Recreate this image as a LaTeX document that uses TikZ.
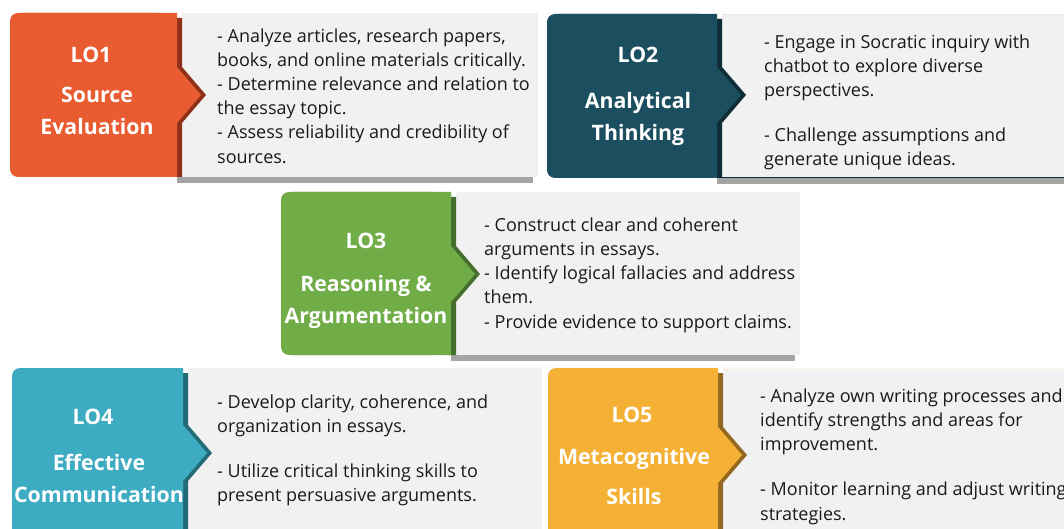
\documentclass[tikz,border=0pt]{standalone}
\usepackage{fontspec}
\setmainfont{Open Sans}
\definecolor{panelgray}{HTML}{F1F1F1}
\definecolor{shadowgray}{HTML}{A5A5A5}
\definecolor{bodyink}{HTML}{1A1A1A}
\definecolor{loA}{HTML}{E95B30}\definecolor{loAdark}{HTML}{8E3118}
\definecolor{loB}{HTML}{1B4F5F}\definecolor{loBdark}{HTML}{0F2D36}
\definecolor{loC}{HTML}{70AD47}\definecolor{loCdark}{HTML}{466E2C}
\definecolor{loD}{HTML}{3DABC2}\definecolor{loDdark}{HTML}{246B78}
\definecolor{loE}{HTML}{F4B136}\definecolor{loEdark}{HTML}{946820}
\tikzset{
  titletext/.style={text=white,font=\fontsize{21.3}{26}\selectfont\bfseries,inner sep=0pt,anchor=base},
  bodytext/.style={text=bodyink,font=\fontsize{18}{24.2}\selectfont,inner sep=0pt,anchor=north west,align=left},
}
% #1 left, #2 top, #3 bottom, #4 panel left, #5 panel right, #6 arrow centre y, #7 fill, #8 dark edge
\newcommand\locard[8]{%
  \fill[shadowgray] (#4-5,#3) rectangle (#5-5,#3+6);
  \fill[panelgray] (#4,#2) rectangle (#5,#3);
  \fill[#7!12] (#4,#2) rectangle (#5,#2+1.2);
  \fill[#8] (#4-10,#2+5) -- (#4,#2+5) -- (#4,#6-28) -- (#4+24,#6) -- (#4,#6+28)
    -- (#4,#3) -- (#4-10,#3) -- cycle;
  \fill[#7, rounded corners=8pt] (#1,#2) rectangle (#4-15,#3);
  \fill[#7] (#1+12,#2) -- (#4-5,#2) -- (#4-5,#6-28) -- (#4+19,#6) -- (#4-5,#6+28)
    -- (#4-5,#3) -- (#1+12,#3) -- cycle;
}
\newcommand\bodystrut{\rule{0pt}{15pt}}
\begin{document}
\begin{tikzpicture}[x=1pt,y=-1pt]
\useasboundingbox (0,0) rectangle (1064,529);
\fill[white] (0,0) rectangle (1064,529);

% LO1 Source Evaluation
\locard{10}{13}{177}{182}{538}{95}{loA}{loAdark}
\node[titletext] (lo1id) at (91,63) {LO1};
\node[titletext] (lo1a) at (97,103) {Source};
\node[titletext] (lo1b) at (97,135) {Evaluation};
\node[bodytext] (lo1body) at (217,27) {\bodystrut- Analyze articles, research papers,\\
books, and online materials critically.\\
- Determine relevance and relation to\\
the essay topic.\\
- Assess reliability and credibility of\\
sources.};

% LO2 Analytical Thinking
\locard{547}{14}{178}{722}{1070}{95}{loB}{loBdark}
\fill[loBdark] (722,176.8) rectangle (1064,178);
\node[titletext] (lo2id) at (638,63) {LO2};
\node[titletext] (lo2a) at (638,109) {Analytical};
\node[titletext] (lo2b) at (638,141) {Thinking};
\node[bodytext] (lo2body) at (764,33) {\bodystrut- Engage in Socratic inquiry with\\
chatbot to explore diverse\\
perspectives.\\[21pt]
- Challenge assumptions and\\
generate unique ideas.};

% LO3 Reasoning & Argumentation
\locard{281}{192}{355}{456}{800}{274}{loC}{loCdark}
\node[titletext] (lo3id) at (366,248) {LO3};
\node[titletext] (lo3a) at (366,291) {Reasoning \&};
\node[titletext] (lo3b) at (366,323) {Argumentation};
\node[bodytext] (lo3body) at (484,216) {\bodystrut- Construct clear and coherent\\
arguments in essays.\\
- Identify logical fallacies and address\\
them.\\
- Provide evidence to support claims.};

% LO4 Effective Communication
\locard{12}{368}{545}{188}{542}{453}{loD}{loDdark}
\node[titletext] (lo4id) at (93,424) {LO4};
\node[titletext] (lo4a) at (99,470) {Effective};
\node[titletext] (lo4b) at (99,502) {Communication};
\node[bodytext] (lo4body) at (217,393) {\bodystrut- Develop clarity, coherence, and\\
organization in essays.\\[21pt]
- Utilize critical thinking skills to\\
present persuasive arguments.};

% LO5 Metacognitive Skills
\locard{548}{368}{545}{723}{1070}{455}{loE}{loEdark}
\node[titletext] (lo5id) at (632,422) {LO5};
\node[titletext] (lo5a) at (634,464) {Metacognitive};
\node[titletext] (lo5b) at (634,504) {Skills};
\node[bodytext] (lo5body) at (760,387) {\bodystrut- Analyze own writing processes and\\
identify strengths and areas for\\
improvement.\\[21pt]
- Monitor learning and adjust writing\\
strategies.};
\end{tikzpicture}
\end{document}
